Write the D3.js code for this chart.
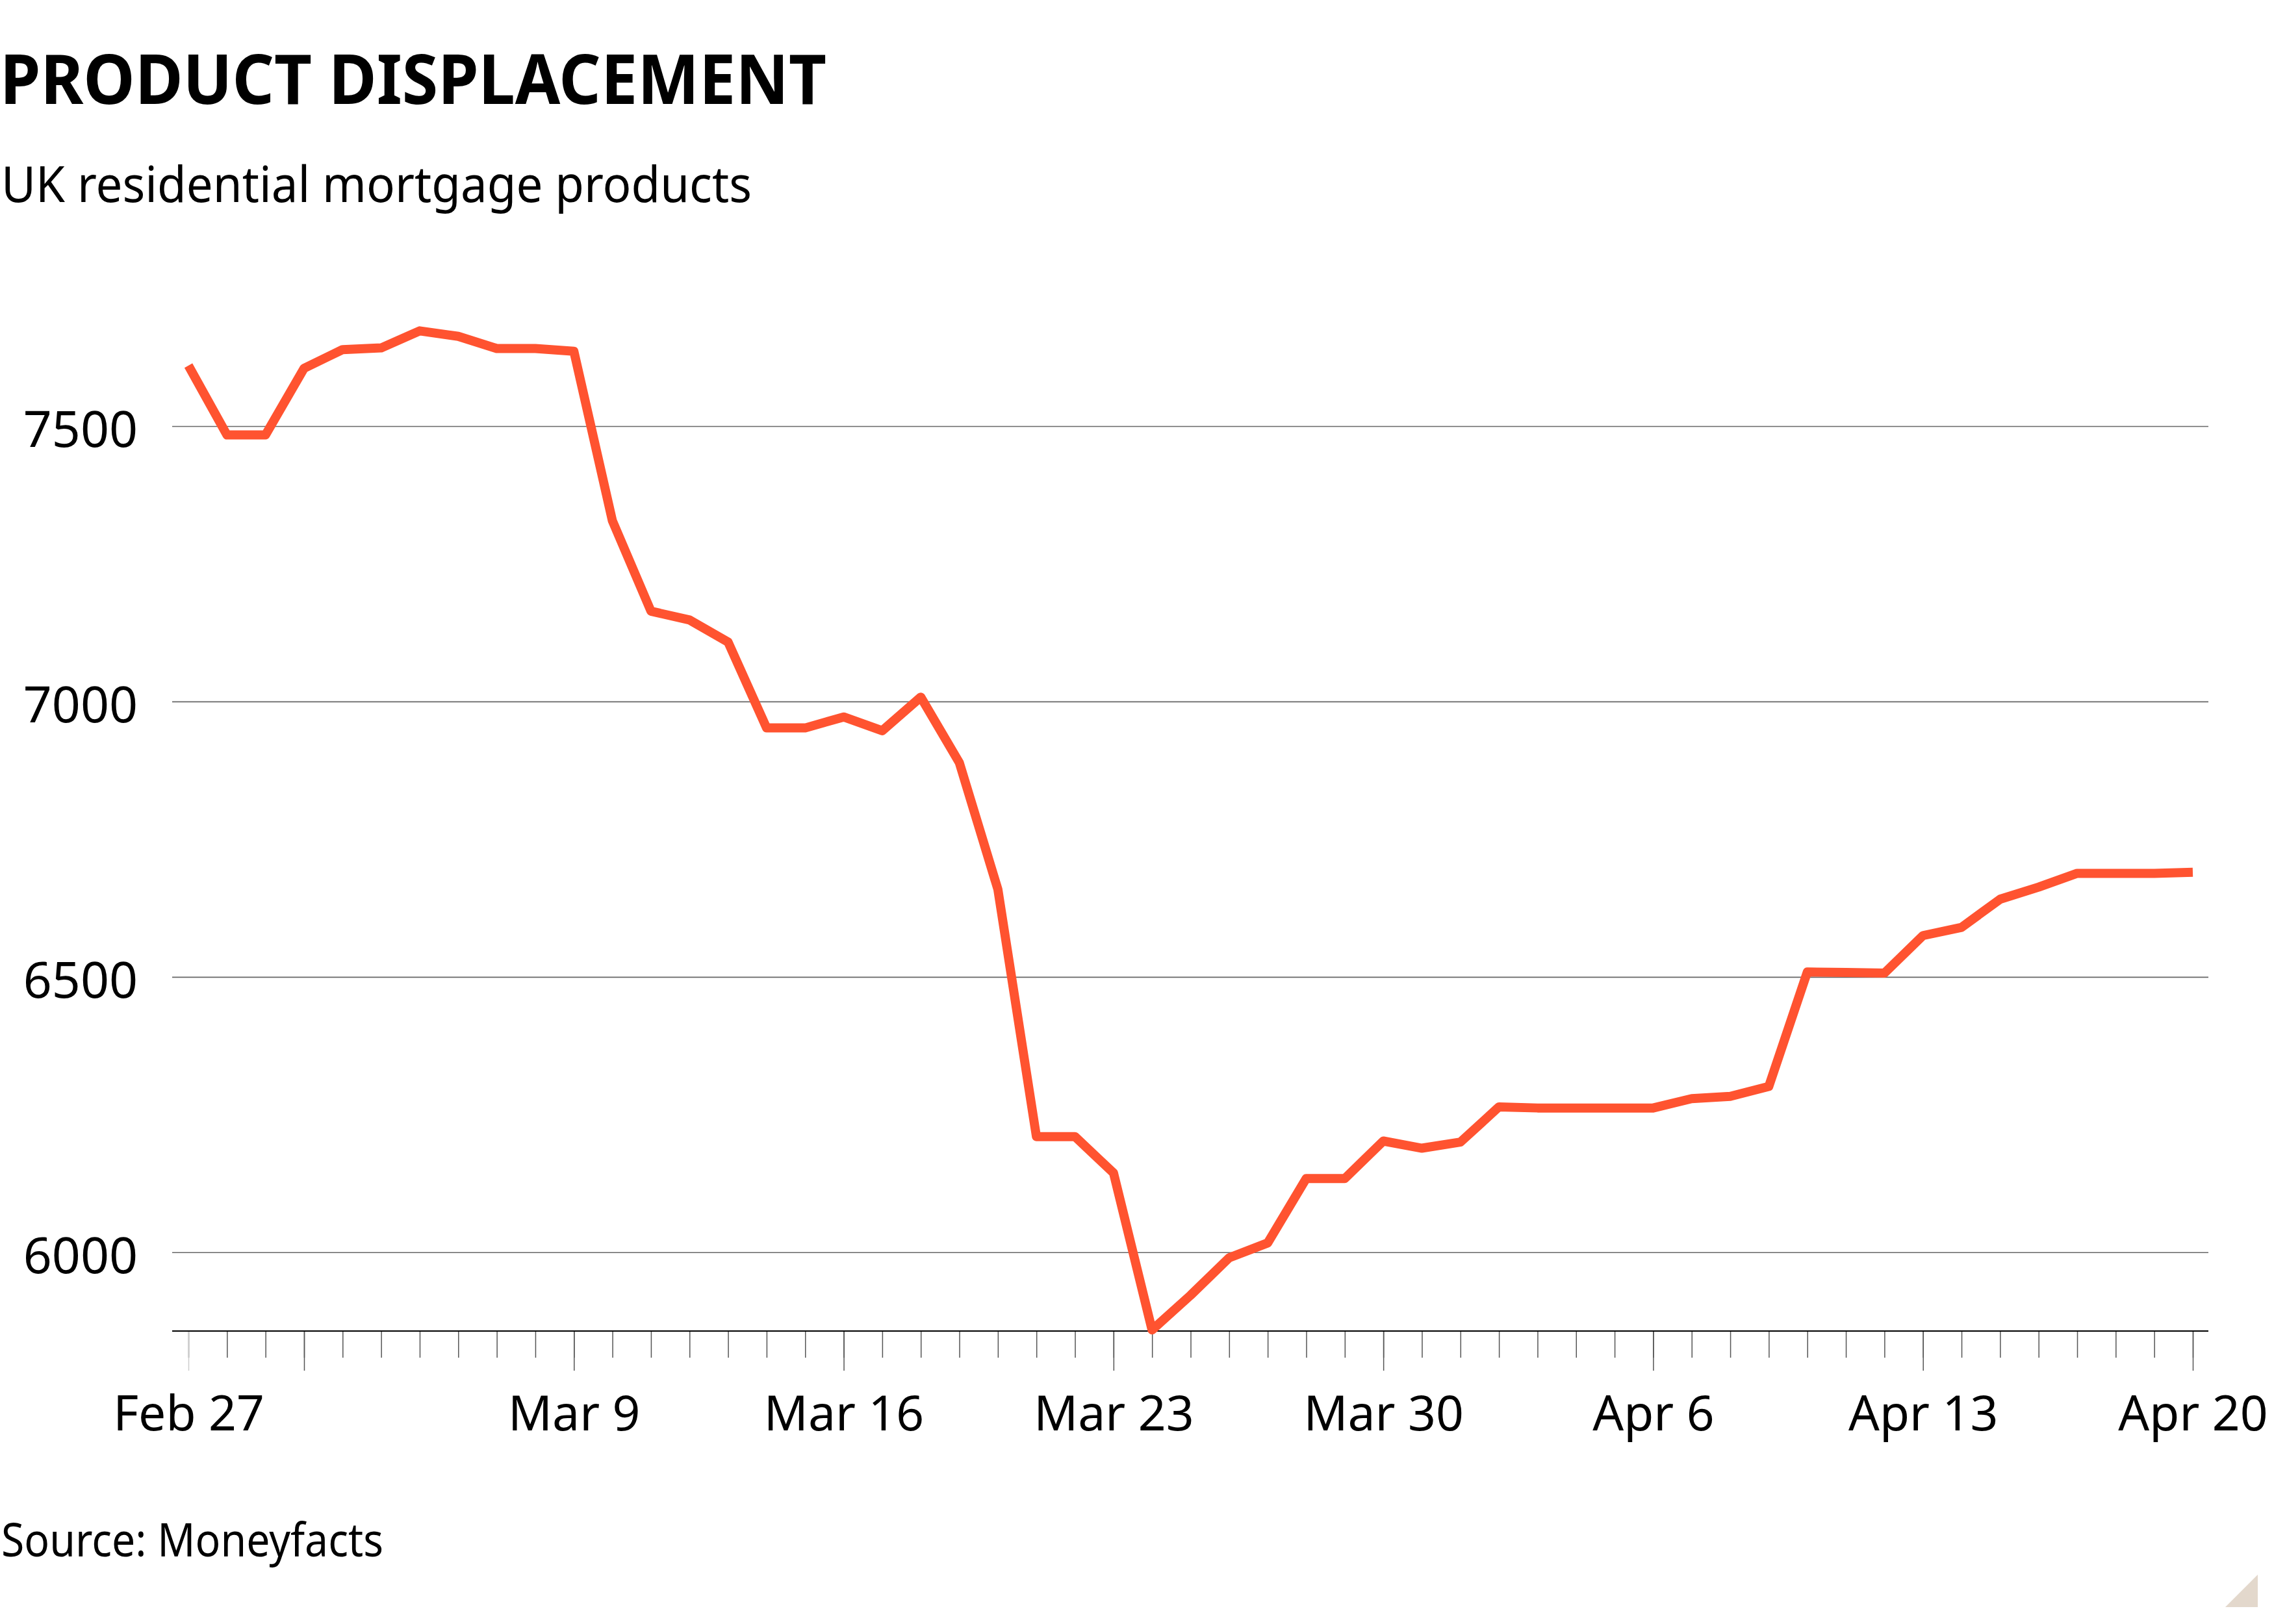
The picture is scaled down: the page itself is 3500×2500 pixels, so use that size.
<!DOCTYPE html>
<html>
<head>
<meta charset="utf-8">
<script src="https://cdn.jsdelivr.net/npm/d3@7"></script>
<style>
  body { margin: 0; background: #fff; }
  text { font-family: "Noto Sans", "Liberation Sans", Arial, sans-serif; fill: #000; }
</style>
</head>
<body>
<div id="chart"></div>
<script>
// Product displacement - UK residential mortgage products (Moneyfacts)
var svgWidth = 3500;
var svgHeight = 2500;

// Data, one value per day from Feb 27 to Apr 20
var firstDay = "Feb 27";
var lastDay = "Apr 20";
var products = [
  7610, 7484, 7484, 7605, 7639, 7642, 7673, 7663, 7641, 7641,
  7636, 7328, 7164, 7148, 7108, 6952, 6952, 6972, 6947, 7008,
  6889, 6659, 6210, 6210, 6144, 5859, 5922, 5990, 6017, 6134,
  6134, 6202, 6189, 6200, 6264, 6262, 6262, 6262, 6262, 6279,
  6283, 6301, 6509, 6508, 6507, 6575, 6590, 6641, 6663, 6688,
  6688, 6688, 6690
];
var yTicks = [6000, 6500, 7000, 7500];
var tickLabels = ["Feb 27", "Mar 9", "Mar 16", "Mar 23", "Mar 30", "Apr 6", "Apr 13", "Apr 20"];
var majorOnly = ["Mar 2"];

var parseDay = d3.timeParse("%b %d %Y");
var toDate = function(s) { return parseDay(s + " 2021"); };
var days = d3.timeDay.range(toDate(firstDay), d3.timeDay.offset(toDate(lastDay), 1));
var series = days.map(function(d, i) { return {date: d, value: products[i]}; });

var labelDates = tickLabels.map(toDate);
var majorDates = labelDates.concat(majorOnly.map(toDate)).sort(d3.ascending);
var fmt = d3.timeFormat("%b %-d");

// layout
var plotLeft = 265, plotRight = 3399;
var axisY = 2049;
var font = "Noto Sans, Liberation Sans, Arial, sans-serif";

var svg = d3.select("#chart")
  .append("svg")
  .attr("width", svgWidth)
  .attr("height", svgHeight);

// Scales
var xScale = d3.scaleTime()
  .domain([days[0], days[days.length - 1]])
  .range([290, 3375]);

var yScale = d3.scaleLinear()
  .domain([5857, 7500])
  .range([axisY, 656]);

// Title and subtitle
svg.append("text")
  .attr("x", 0)
  .attr("y", 160)
  .attr("font-size", 106)
  .attr("font-weight", "bold")
  .attr("textLength", 1272)
  .attr("lengthAdjust", "spacingAndGlyphs")
  .text("PRODUCT DISPLACEMENT");

svg.append("text")
  .attr("x", 2)
  .attr("y", 311)
  .attr("font-size", 77)
  .attr("textLength", 1155)
  .attr("lengthAdjust", "spacingAndGlyphs")
  .text("UK residential mortgage products");

// Gridlines + y labels
var yAxis = svg.append("g")
  .attr("transform", `translate(${plotLeft}, 0)`)
  .call(d3.axisLeft(yScale)
    .tickValues(yTicks)
    .tickFormat(d3.format("d"))
    .tickSizeInner(-(plotRight - plotLeft))
    .tickSizeOuter(0)
    .tickPadding(53));

yAxis.select(".domain").remove();
yAxis.selectAll(".tick line")
  .attr("stroke", "#666")
  .attr("stroke-width", 1.6);
yAxis.selectAll(".tick text")
  .attr("font-size", 77)
  .attr("font-family", font)
  .attr("dy", "0.41em");

// x axis: minor ticks every day
var minorAxis = svg.append("g")
  .attr("transform", `translate(0, ${axisY})`)
  .call(d3.axisBottom(xScale)
    .tickValues(days)
    .tickSize(41)
    .tickFormat(""));
minorAxis.select(".domain").remove();
minorAxis.selectAll(".tick line")
  .attr("stroke", "#555")
  .attr("stroke-width", 1.5);

// major ticks with labels
var majorAxis = svg.append("g")
  .attr("transform", `translate(0, ${axisY})`)
  .call(d3.axisBottom(xScale)
    .tickValues(majorDates)
    .tickSize(61)
    .tickFormat(function(d) {
      return labelDates.some(function(l) { return +l === +d; }) ? fmt(d) : "";
    }));
majorAxis.select(".domain").remove();
majorAxis.selectAll(".tick line")
  .attr("stroke", function(d, i) { return i === 0 ? "#ccc" : "#555"; })
  .attr("stroke-width", 1.5);
majorAxis.selectAll(".tick text")
  .attr("font-size", 75)
  .attr("font-family", font)
  .attr("y", 153)
  .attr("dy", 0);

// axis baseline
svg.append("line")
  .attr("x1", plotLeft)
  .attr("x2", plotRight)
  .attr("y1", axisY)
  .attr("y2", axisY)
  .attr("stroke", "#000")
  .attr("stroke-width", 2.2);

// the line
var line = d3.line()
  .x(function(d) { return xScale(d.date); })
  .y(function(d) { return yScale(d.value); });

svg.append("path")
  .datum(series)
  .attr("d", line)
  .attr("fill", "none")
  .attr("stroke", "#ff5330")
  .attr("stroke-width", 14)
  .attr("stroke-linejoin", "round")
  .attr("stroke-linecap", "butt");

// Source
svg.append("text")
  .attr("x", 2)
  .attr("y", 2396)
  .attr("font-size", 72)
  .attr("textLength", 588)
  .attr("lengthAdjust", "spacingAndGlyphs")
  .text("Source: Moneyfacts");

// corner mark
svg.append("path")
  .attr("d", "M3475,2424 L3475,2474 L3425,2474 Z")
  .attr("fill", "#e3d8cc");
</script>
</body>
</html>
